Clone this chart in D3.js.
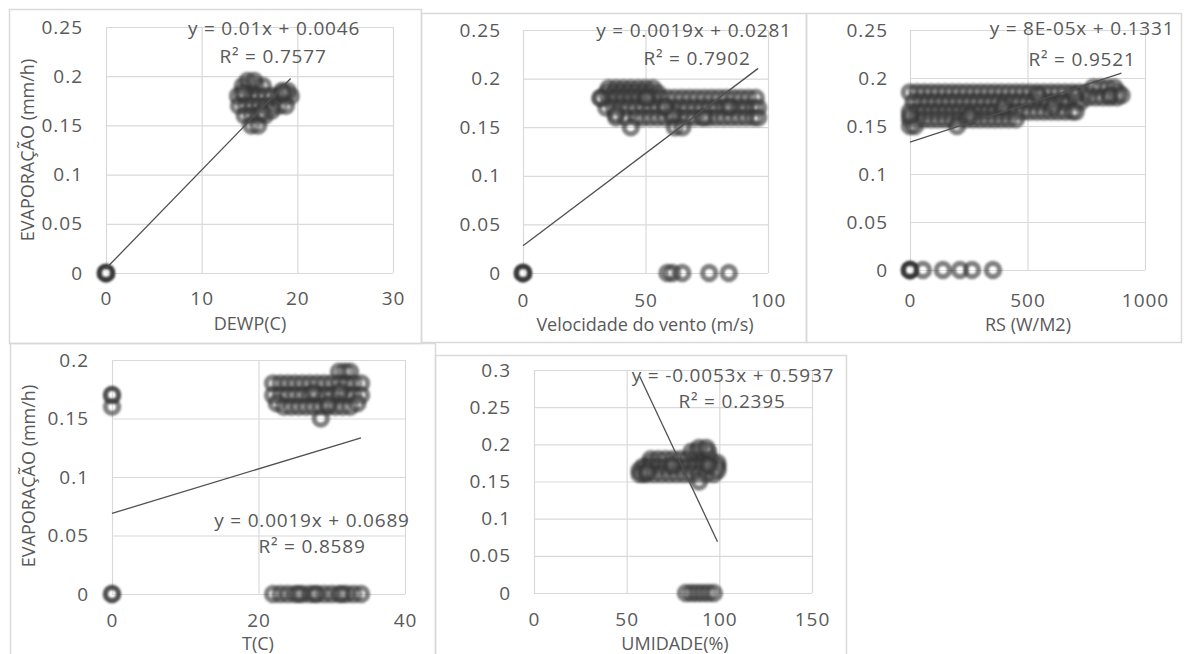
<!DOCTYPE html>
<html>
<head>
<meta charset="utf-8">
<script src="https://cdn.jsdelivr.net/npm/d3@7"></script>
<style>
  body { margin: 0; background: #fff; }
  svg text { font-family: "Open Sans", sans-serif; fill: #595959; }
</style>
</head>
<body>
<svg id="chart" width="1186" height="654"></svg>
<script>
// ---- data: [x, evaporação] ----
const dewpPts = [
  [0,0],[0,0],[0,0],[0,0],[0,0],[0,0],
  [14.3,0.19],[15,0.19],[15.7,0.19],[16.4,0.19],[14.8,0.195],[15.5,0.195],
  [13.8,0.18],[14.5,0.18],[15.2,0.18],[15.9,0.18],[16.6,0.18],[17.3,0.18],[18,0.18],[18.7,0.18],[19.3,0.18],
  [18.4,0.185],[19,0.185],
  [13.9,0.17],[14.6,0.17],[15.3,0.17],[16,0.17],[16.7,0.17],[17.4,0.17],[18.1,0.17],[18.8,0.17],
  [14.5,0.16],[15.2,0.16],[15.9,0.16],[16.6,0.16],[17.3,0.165],
  [15.2,0.15],[15.9,0.15],
  [14.3,0.183],[18.5,0.183],[16.3,0.163]
];
const ventoPts = [
  [0,0],[0,0],[0,0],[0,0],[0,0],[0,0],
  [59,0],[61,0],[65,0],[76,0],[84,0],
  [35,0.19],[38,0.19],[41,0.19],[44,0.19],[47,0.19],[50,0.19],[53,0.19],
  [34,0.185],[37,0.185],[40,0.185],[43,0.185],[46,0.185],[49,0.185],[52,0.185],[55,0.185],
  [32,0.18],[35,0.18],[38,0.18],[41,0.18],[44,0.18],[47,0.18],[50,0.18],[53,0.18],[56,0.18],[59,0.18],[62,0.18],
  [65,0.18],[68,0.18],[71,0.18],[74,0.18],[77,0.18],[80,0.18],[83,0.18],[86,0.18],[89,0.18],[92,0.18],[95,0.18],
  [34,0.17],[37,0.17],[40,0.17],[43,0.17],[46,0.17],[49,0.17],[52,0.17],[55,0.17],[58,0.17],[61,0.17],[64,0.17],
  [67,0.17],[70,0.17],[73,0.17],[76,0.17],[79,0.17],[82,0.17],[85,0.17],[88,0.17],[91,0.17],[94,0.17],[96,0.17],
  [38,0.16],[42,0.16],[46,0.16],[49,0.16],[52,0.16],[55,0.16],[58,0.16],[61,0.16],[64,0.16],[67,0.16],
  [70,0.16],[73,0.16],[76,0.16],[79,0.16],[82,0.16],[85,0.16],[88,0.16],[91,0.16],[94,0.16],[96,0.16],
  [44,0.15],[62,0.15],[65,0.15],
  [31.5,0.18],[50.5,0.18],[38,0.163],[61,0.163],[74,0.16],[58,0.171],[84,0.171]
];
const rsPts = [
  [0,0],[0,0],[0,0],[0,0],[0,0],[0,0],
  [55,0],[140,0],[213,0],[264,0],[353,0],
  [0,0.185],[30,0.185],[60,0.185],[90,0.185],[120,0.185],[150,0.185],[180,0.185],[210,0.185],[240,0.185],
  [270,0.185],[300,0.185],[330,0.185],[360,0.185],[390,0.185],[420,0.185],[450,0.185],[480,0.185],[510,0.185],
  [540,0.185],[570,0.185],[600,0.185],[630,0.185],[660,0.185],[690,0.185],[720,0.185],
  [15,0.175],[45,0.175],[75,0.175],[105,0.175],[135,0.175],[165,0.175],[195,0.175],[225,0.175],[255,0.175],
  [285,0.175],[315,0.175],[345,0.175],[375,0.175],[405,0.175],[435,0.175],[465,0.175],[495,0.175],[525,0.175],
  [555,0.175],[585,0.175],[615,0.175],[645,0.175],[675,0.175],[705,0.175],[725,0.175],
  [0,0.165],[30,0.165],[60,0.165],[90,0.165],[120,0.165],[150,0.165],[180,0.165],[210,0.165],[240,0.165],
  [270,0.165],[300,0.165],[330,0.165],[360,0.165],[390,0.165],[420,0.165],[450,0.165],[480,0.165],[510,0.165],
  [540,0.165],[570,0.165],[600,0.165],[630,0.165],[660,0.165],[690,0.165],[705,0.165],
  [0,0.157],[30,0.157],[60,0.157],[90,0.157],[120,0.157],[150,0.157],[180,0.157],[210,0.157],[240,0.157],
  [270,0.157],[300,0.157],[330,0.157],[360,0.157],[390,0.157],[420,0.157],[450,0.157],
  [0,0.15],[20,0.15],[200,0.15],
  [750,0.185],[780,0.19],[810,0.19],[840,0.19],[870,0.19],[885,0.185],
  [760,0.18],[790,0.18],[820,0.18],[850,0.18],[880,0.18],
  [0,0.161],[255,0.161],[396,0.17],[609,0.17],[545,0.182],[702,0.182],[851,0.182],[900,0.182]
];
const tempPts = [
  [0,0],[0,0],
  [22,0],[23,0],[24,0],[25,0],[26,0],[27,0],[28,0],[29,0],[30,0],[31,0],[32,0],[33,0],[34,0],
  [25.5,0],[27.7,0],[31.4,0],
  [0,0.17],[0,0.16],[0,0.17],
  [31,0.19],[31.8,0.19],[32.5,0.19],
  [22,0.18],[23,0.18],[24,0.18],[25,0.18],[26,0.18],[27,0.18],[28,0.18],[29,0.18],[30,0.18],[31,0.18],[32,0.18],[33,0.18],[34,0.18],
  [22,0.17],[23,0.17],[24,0.17],[25,0.17],[26,0.17],[27,0.17],[28,0.17],[29,0.17],[30,0.17],[31,0.17],[32,0.17],[33,0.17],[34,0.17],
  [22.5,0.163],[23.5,0.16],[24.5,0.16],[25.5,0.16],[26.5,0.16],[27.5,0.16],[28.5,0.16],[29.5,0.16],[30.5,0.16],[31.5,0.16],[32.5,0.16],[33.5,0.163],
  [28.5,0.15],
  [27.5,0.172],[29.5,0.162],[31.1,0.173]
];
const umidPts = [
  [82,0],[85,0],[88,0],[91,0],[94,0],[97,0],
  [57,0.165],[59,0.16],[61,0.17],[63,0.175],
  [63,0.18],[67,0.18],[71,0.18],[75,0.18],[79,0.18],[83,0.18],[87,0.18],[91,0.18],[95,0.18],[99,0.175],
  [59,0.17],[63,0.17],[67,0.17],[71,0.17],[75,0.17],[79,0.17],[83,0.17],[87,0.17],[91,0.17],[95,0.17],[99,0.17],
  [57,0.16],[61,0.16],[65,0.16],[69,0.16],[73,0.16],[77,0.16],[81,0.16],[85,0.16],[89,0.16],[93,0.16],[97,0.16],[99,0.165],
  [85,0.19],[88,0.19],[91,0.19],[94,0.19],[89,0.195],[93,0.195],
  [89,0.15],
  [61,0.163],[74.5,0.172],[94,0.172]
];

// trend coefficients [slope, intercept] and labels
const dewpFit = [0.01, 0.0046];
const ventoFit = [0.0019, 0.0281];
const rsFit = [8e-5, 0.1331];
const tempFit = [0.0019, 0.0689];
const umidFit = [-0.0053, 0.5937];

const dewpEq = ["y = 0.01x + 0.0046", "R² = 0.7577"];
const ventoEq = ["y = 0.0019x + 0.0281", "R² = 0.7902"];
const rsEq = ["y = 8E-05x + 0.1331", "R² = 0.9521"];
const tempEq = ["y = 0.0019x + 0.0689", "R² = 0.8589"];
const umidEq = ["y = -0.0053x + 0.5937", "R² = 0.2395"];

// ticks
const ticks025 = [0, 0.05, 0.1, 0.15, 0.2, 0.25];
const ticks02 = [0, 0.05, 0.1, 0.15, 0.2];
const ticks03 = [0, 0.05, 0.1, 0.15, 0.2, 0.25, 0.3];
const dewpTicks = [0, 10, 20, 30];
const ventoTicks = [0, 50, 100];
const rsTicks = [0, 500, 1000];
const tempTicks = [0, 20, 40];
const umidTicks = [0, 50, 100, 150];

const yTitle = "EVAPORAÇÃO (mm/h)";

const svg = d3.select("#chart");

const defs = svg.append("defs");
defs.append("filter").attr("id", "soft")
  .append("feGaussianBlur").attr("stdDeviation", 1);

function fmt(v) { return String(+v.toFixed(2)); }

function drawPanel(c) {
  const g = svg.append("g");

  // outer chart frame
  g.append("rect")
    .attr("x", c.frame[0] + 0.5).attr("y", c.frame[1] + 0.5)
    .attr("width", c.frame[2] - c.frame[0]).attr("height", c.frame[3] - c.frame[1])
    .attr("fill", "none").attr("stroke", "#d9d9d9").attr("stroke-width", 1.5);

  const x = d3.scaleLinear().domain([c.xTicks[0], c.xTicks[c.xTicks.length - 1]]).range([c.left, c.right]);
  const y = d3.scaleLinear().domain([c.yTicks[0], c.yTicks[c.yTicks.length - 1]]).range([c.bottom, c.top]);

  const xAxis = g.append("g")
    .attr("transform", `translate(0,${c.bottom})`)
    .call(d3.axisBottom(x).tickValues(c.xTicks).tickSize(-(c.bottom - c.top)).tickPadding(c.xPad).tickFormat(fmt));
  const yAxis = g.append("g")
    .attr("transform", `translate(${c.left},0)`)
    .call(d3.axisLeft(y).tickValues(c.yTicks).tickSize(-(c.right - c.left)).tickPadding(c.yPad).tickFormat(fmt));

  [xAxis, yAxis].forEach(a => {
    a.select(".domain").remove();
    a.selectAll(".tick line").attr("stroke", "#d9d9d9").attr("stroke-width", 1.2);
    a.selectAll(".tick text").attr("font-size", 19).attr("letter-spacing", 1).attr("fill", "#595959");
  });

  // markers
  g.append("g").attr("filter", "url(#soft)")
    .selectAll("circle").data(c.pts).join("circle")
    .attr("cx", d => x(d[0])).attr("cy", d => y(d[1]))
    .attr("r", 6.5)
    .attr("fill", "#ffffff").attr("fill-opacity", 0.15)
    .attr("stroke", "#333333").attr("stroke-opacity", 0.62).attr("stroke-width", 5.5);

  // linear trend line across the x range of the data
  const ext = d3.extent(c.pts, d => d[0]);
  const line = d3.line().x(d => x(d)).y(d => y(c.fit[0] * d + c.fit[1]));
  g.append("path").attr("d", line(ext))
    .attr("fill", "none").attr("stroke", "#505050").attr("stroke-width", 1.3);

  // equation labels
  g.append("text").attr("x", c.eq[0]).attr("y", c.eq[1]).attr("text-anchor", "middle")
    .attr("font-size", 19).attr("letter-spacing", 0.8).text(c.eqText[0]);
  g.append("text").attr("x", c.eq[2]).attr("y", c.eq[3]).attr("text-anchor", "middle")
    .attr("font-size", 19).attr("letter-spacing", 0.8).text(c.eqText[1]);

  // axis titles
  g.append("text").attr("x", c.xTitle[0]).attr("y", c.xTitle[1]).attr("text-anchor", "middle")
    .attr("font-size", 18).text(c.xLabel);
  if (c.yTitle) {
    g.append("text")
      .attr("transform", `translate(${c.yTitle[0]},${c.yTitle[1]}) rotate(-90)`)
      .attr("text-anchor", "middle").attr("font-size", 18).text(yTitle);
  }
}

drawPanel({
  frame: [9, 9, 421, 343], left: 106, right: 393, bottom: 273, top: 27,
  xTicks: dewpTicks, yTicks: ticks025, xPad: 19, yPad: 23,
  pts: dewpPts, fit: dewpFit, eqText: dewpEq, eq: [274, 35, 273, 63],
  xLabel: "DEWP(C)", xTitle: [250, 330], yTitle: [34, 150]
});
drawPanel({
  frame: [421, 13, 806, 342], left: 523, right: 768, bottom: 273, top: 30,
  xTicks: ventoTicks, yTicks: ticks025, xPad: 21, yPad: 22,
  pts: ventoPts, fit: ventoFit, eqText: ventoEq, eq: [694, 37, 697, 65],
  xLabel: "Velocidade do vento (m/s)", xTitle: [645, 331]
});
drawPanel({
  frame: [806, 13, 1181, 342], left: 910, right: 1145, bottom: 270, top: 30,
  xTicks: rsTicks, yTicks: ticks025, xPad: 24, yPad: 22,
  pts: rsPts, fit: rsFit, eqText: rsEq, eq: [1082, 35, 1082, 66],
  xLabel: "RS (W/M2)", xTitle: [1028, 331]
});
drawPanel({
  frame: [10, 343, 435, 660], left: 112, right: 405, bottom: 594, top: 360,
  xTicks: tempTicks, yTicks: ticks02, xPad: 20, yPad: 23,
  pts: tempPts, fit: tempFit, eqText: tempEq, eq: [312, 527, 312, 553],
  xLabel: "T(C)", xTitle: [258, 650], yTitle: [35, 476]
});
drawPanel({
  frame: [435, 355, 846, 660], left: 534, right: 812, bottom: 593, top: 370,
  xTicks: umidTicks, yTicks: ticks03, xPad: 20, yPad: 23,
  pts: umidPts, fit: umidFit, eqText: umidEq, eq: [733, 382, 732, 408],
  xLabel: "UMIDADE(%)", xTitle: [675, 650]
});
</script>
</body>
</html>
